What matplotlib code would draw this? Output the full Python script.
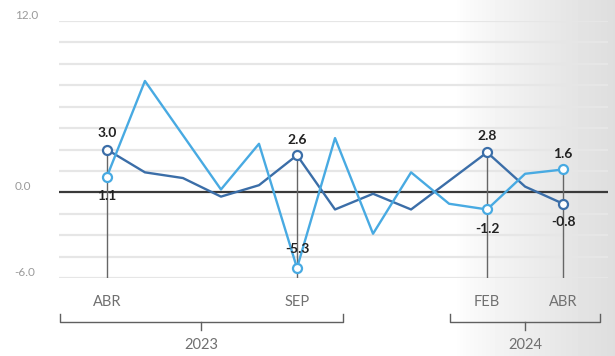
import matplotlib.pyplot as plt
import numpy as np

# monthly values, ABR 2023 .. ABR 2024
months = ['ABR', 'MAY', 'JUN', 'JUL', 'AGO', 'SEP', 'OCT', 'NOV', 'DIC', 'ENE', 'FEB', 'MAR', 'ABR']
dark = [3.0, 1.4, 1.0, -0.3, 0.5, 2.6, -1.2, -0.1, -1.2, 0.8, 2.8, 0.4, -0.8]
light = [1.1, 7.8, 4.0, 0.2, 3.4, -5.3, 3.8, -2.9, 1.4, -0.8, -1.2, 1.3, 1.6]

shown = [0, 5, 10, 12]          # months that get a tick label + value labels
years = ['2023', '2024']
year_span = [(-1.24, 6.2), (9.03, 12.97)]

ymin, ymax = -6.0, 12.0
grid_vals = np.arange(ymin, ymax + 0.1, 1.5)

c_dark = '#3b6ea8'
c_light = '#48aae2'

plt.rcParams['font.family'] = ['Lato', 'DejaVu Sans']

fig = plt.figure(figsize=(6.15, 3.56), dpi=100)

# background gradient on the right side
bg = fig.add_axes([0, 0, 1, 1], zorder=-5)
xs = np.linspace(0, 615, 615)
shade = np.where(xs < 455, 1.0, 1.0 - 0.13 * ((xs - 455) / 160.0) ** 0.8)
bg.imshow(np.tile(shade, (10, 1)), cmap='gray', vmin=0, vmax=1, aspect='auto',
          extent=[0, 1, 0, 1])
bg.axis('off')

ax = fig.add_axes([59 / 615, 1 - 278 / 356, 549 / 615, 257 / 356])
ax.set_facecolor('none')
ax.set_xlim(-1.26, 13.18)
ax.set_ylim(ymin, ymax)
for s in ax.spines.values():
    s.set_visible(False)
ax.set_xticks([])
ax.set_yticks([])

for g in grid_vals:
    if g == 0:
        continue
    ax.axhline(g, color='#e6e6e6', lw=1.6, zorder=0)
ax.axhline(0, color='#3a3a3a', lw=1.6, zorder=1)

x = np.arange(len(months))
for i in shown:
    ax.vlines(i, ymin, max(dark[i], light[i]), color='#666666', lw=1.0, zorder=2)

ax.plot(x, dark, color=c_dark, lw=1.7, zorder=3)
ax.plot(x, light, color=c_light, lw=1.7, zorder=4)
ax.plot(x[shown], np.array(dark)[shown], 'o', ms=6.5, mfc='white', mec=c_dark, mew=1.6,
        zorder=5, clip_on=False)
ax.plot(x[shown], np.array(light)[shown], 'o', ms=6.5, mfc='white', mec=c_light, mew=1.6,
        zorder=5, clip_on=False)

# value labels (offset in points)
lab_off = {
    (0, 'd'): 12, (0, 'l'): -14,
    (5, 'd'): 11, (5, 'l'): 14,
    (10, 'd'): 12, (10, 'l'): -14,
    (12, 'd'): -13, (12, 'l'): 11,
}
for i in shown:
    for key, vals in (('d', dark), ('l', light)):
        ax.annotate(f'{vals[i]:.1f}', xy=(i, vals[i]), xytext=(0, lab_off[(i, key)]),
                    textcoords='offset points', ha='center', va='center',
                    fontsize=10, fontweight='bold', color='#222222', zorder=6)

# month labels
for i in shown:
    ax.annotate(months[i], xy=(i, 0), xycoords=ax.get_xaxis_transform(),
                xytext=(0, -17.5), textcoords='offset points', ha='center', va='center',
                fontsize=10.5, color='#707070')

# y labels
for v in (ymax, 0.0, ymin):
    ax.annotate(f'{v:.1f}', xy=(0, v), xycoords=('figure fraction', 'data'),
                xytext=(10.5, 4), textcoords='offset points', ha='left', va='center',
                fontsize=8.5, color='#9a9a9a')

# year brackets
py = 0.72  # pt per px
yb = ymin - 44 / 14.28
yt = ymin - 36 / 14.28
yd = ymin - 52 / 14.28
for yr, (a, b) in zip(years, year_span):
    ax.plot([a, a, b, b], [yt, yb, yb, yt], color='#606060', lw=1.0, clip_on=False,
            solid_joinstyle='round')
    m = (a + b) / 2
    ax.plot([m, m], [yb, yd], color='#606060', lw=1.0, clip_on=False)
    ax.annotate(yr, xy=(m, yb), xytext=(0, -23 * py), textcoords='offset points',
                ha='center', va='center', fontsize=10.5, color='#707070',
                annotation_clip=False)

fig.savefig('out.png', dpi=100)
